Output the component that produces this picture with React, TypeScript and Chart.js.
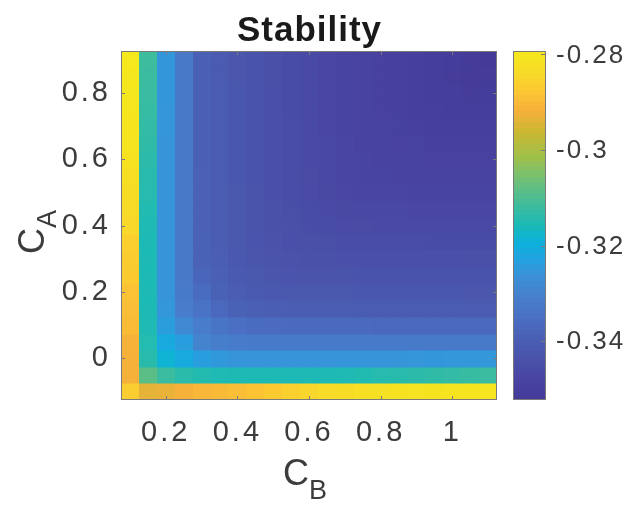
import React, { useEffect, useRef } from 'react';
import { Chart, registerables } from 'chart.js';
Chart.register(...registerables);

const FONT = '"Liberation Sans", Arial, Helvetica, sans-serif';
const TEXT = '#3c3c3c';
const EDGE = '#7a7a7a';

// ---- data ----
const titleText = 'Stability';
const cbCenters = [0.1, 0.15, 0.2, 0.25, 0.3, 0.35, 0.4, 0.45, 0.5, 0.55, 0.6, 0.65, 0.7, 0.75, 0.8, 0.85, 0.9, 0.95, 1.0, 1.05, 1.1];
const caCenters = [-0.1, -0.05, 0, 0.05, 0.1, 0.15, 0.2, 0.25, 0.3, 0.35, 0.4, 0.45, 0.5, 0.55, 0.6, 0.65, 0.7, 0.75, 0.8, 0.85, 0.9];
const xTicks = [0.2, 0.4, 0.6, 0.8, 1];
const yTicks = [0, 0.2, 0.4, 0.6, 0.8];
const cbTicks = [-0.34, -0.32, -0.3, -0.28];
const climMin = -0.3523;
const climMax = -0.2793;

// value on the diagonal cells (i == j)
const diagonal = [-0.2865, -0.3085, -0.3185, -0.3235, -0.3312, -0.3370, -0.3400, -0.3418, -0.3430, -0.3441, -0.3452, -0.3461, -0.3470, -0.3478, -0.3485, -0.3491, -0.3497, -0.3502, -0.3507, -0.3512, -0.3520];
// row k, cells to the right of the diagonal
const rowArm0 = [-0.2935, -0.2930, -0.2915, -0.2905, -0.2897, -0.2890, -0.2880, -0.2870, -0.2858, -0.2847, -0.2838, -0.2830, -0.2823, -0.2817, -0.2813, -0.2810, -0.2808, -0.2806, -0.2805, -0.2804];
const rowArm1 = [-0.3120, -0.3138, -0.3146, -0.3150, -0.3152, -0.3153, -0.3153, -0.3153, -0.3153, -0.3153, -0.3150, -0.3147, -0.3143, -0.3140, -0.3136, -0.3132, -0.3128, -0.3124, -0.3120];
const rowArm2 = [-0.3210, -0.3235, -0.3248, -0.3255, -0.3256, -0.3256, -0.3256, -0.3256, -0.3256, -0.3255, -0.3255, -0.3254, -0.3254, -0.3253, -0.3252, -0.3251, -0.3250, -0.3250];
const rowArm3 = [-0.3295, -0.3310, -0.3315, -0.3318, -0.3318, -0.3319, -0.3319, -0.3319, -0.3319, -0.3320, -0.3320, -0.3320, -0.3320, -0.3320, -0.3320, -0.3320, -0.3320];
const rowArm4 = [-0.3335, -0.3350, -0.3358, -0.3362, -0.3363, -0.3364, -0.3364, -0.3365, -0.3365, -0.3366, -0.3366, -0.3366, -0.3367, -0.3367, -0.3368, -0.3368];
// column k, cells above the diagonal
const colArm0 = [-0.2915, -0.2915, -0.2912, -0.2895, -0.2890, -0.2885, -0.2870, -0.2866, -0.2860, -0.2845, -0.2838, -0.2830, -0.2822, -0.2812, -0.2806, -0.2802, -0.2799, -0.2797, -0.2795, -0.2793];
const colArm1 = [-0.3140, -0.3145, -0.3150, -0.3153, -0.3153, -0.3153, -0.3153, -0.3153, -0.3150, -0.3147, -0.3143, -0.3140, -0.3136, -0.3132, -0.3128, -0.3125, -0.3122, -0.3120, -0.3118];
const colArm2 = [-0.3212, -0.3238, -0.3250, -0.3255, -0.3256, -0.3256, -0.3256, -0.3256, -0.3256, -0.3255, -0.3255, -0.3254, -0.3254, -0.3253, -0.3253, -0.3252, -0.3252, -0.3252];
const colArm3 = [-0.3280, -0.3312, -0.3320, -0.3323, -0.3324, -0.3325, -0.3325, -0.3325, -0.3325, -0.3326, -0.3326, -0.3326, -0.3326, -0.3326, -0.3327, -0.3327, -0.3327];
const colArm4 = [-0.3340, -0.3360, -0.3375, -0.3385, -0.3387, -0.3388, -0.3389, -0.3390, -0.3390, -0.3391, -0.3391, -0.3392, -0.3392, -0.3392, -0.3393, -0.3393];
// inner arms (row and column alike)
const arm5 = [-0.3385, -0.3393, -0.3398, -0.3400, -0.3401, -0.3402, -0.3402, -0.3403, -0.3403, -0.3404, -0.3404, -0.3405, -0.3405, -0.3406, -0.3406];
const arm6 = [-0.3410, -0.3414, -0.3416, -0.3417, -0.3418, -0.3418, -0.3419, -0.3419, -0.3419, -0.3420, -0.3420, -0.3420, -0.3421, -0.3421];
const arm7 = [-0.3425, -0.3428, -0.3429, -0.3430, -0.3430, -0.3431, -0.3431, -0.3432, -0.3432, -0.3432, -0.3433, -0.3433, -0.3433];
const arm8 = [-0.3436, -0.3439, -0.3440, -0.3441, -0.3441, -0.3442, -0.3442, -0.3443, -0.3443, -0.3443, -0.3444, -0.3444];
const arm9 = [-0.3446, -0.3449, -0.3450, -0.3451, -0.3451, -0.3452, -0.3452, -0.3453, -0.3453, -0.3453, -0.3454];
const arm10 = [-0.3456, -0.3458, -0.3459, -0.3460, -0.3460, -0.3461, -0.3461, -0.3462, -0.3462, -0.3462];
const arm11 = [-0.3465, -0.3467, -0.3468, -0.3468, -0.3469, -0.3469, -0.3470, -0.3470, -0.3470];
const arm12 = [-0.3473, -0.3475, -0.3475, -0.3476, -0.3476, -0.3477, -0.3477, -0.3477];
const arm13 = [-0.3480, -0.3482, -0.3482, -0.3483, -0.3483, -0.3484, -0.3484];
const arm14 = [-0.3487, -0.3488, -0.3489, -0.3489, -0.3490, -0.3490];
const arm15 = [-0.3493, -0.3494, -0.3495, -0.3495, -0.3496];
const arm16 = [-0.3499, -0.3500, -0.3500, -0.3501];
const arm17 = [-0.3504, -0.3505, -0.3506];
const arm18 = [-0.3509, -0.3510];
const arm19 = [-0.3515];

const innerArms = [arm5, arm6, arm7, arm8, arm9, arm10, arm11, arm12, arm13, arm14, arm15, arm16, arm17, arm18, arm19];
const rowArms = [rowArm0, rowArm1, rowArm2, rowArm3, rowArm4, ...innerArms];
const colArms = [colArm0, colArm1, colArm2, colArm3, colArm4, ...innerArms];

function valueAt(i: number, j: number): number {
  if (i === j) return diagonal[i];
  if (i > j) return rowArms[j][i - j - 1];
  return colArms[i][j - i - 1];
}

// colour map as it appears in the picture's colour bar (bottom -> top)
const cmapStops: [number, string][] = [
  [0.0, '#443a98'], [0.05, '#4842a0'], [0.12, '#4a52aa'], [0.18, '#4a60b4'],
  [0.24, '#4a70c4'], [0.30, '#4680cc'], [0.36, '#3a92d8'], [0.41, '#20a4e0'],
  [0.45, '#0cb0dc'], [0.50, '#18bab8'], [0.56, '#40bc9c'], [0.63, '#70c078'],
  [0.70, '#a0c048'], [0.77, '#ccb832'], [0.83, '#f6b03a'], [0.88, '#fcc434'],
  [0.93, '#f8d82a'], [1.0, '#f5e81c'],
];

function hexRgb(h: string) {
  return [parseInt(h.slice(1, 3), 16), parseInt(h.slice(3, 5), 16), parseInt(h.slice(5, 7), 16)];
}
function colorAtT(t: number): string {
  t = Math.max(0, Math.min(1, t));
  for (let k = 0; k < cmapStops.length - 1; k++) {
    const [t0, c0] = cmapStops[k];
    const [t1, c1] = cmapStops[k + 1];
    if (t <= t1) {
      const f = (t - t0) / (t1 - t0);
      const a = hexRgb(c0), b = hexRgb(c1);
      const r = Math.round(a[0] + (b[0] - a[0]) * f);
      const g = Math.round(a[1] + (b[1] - a[1]) * f);
      const bl = Math.round(a[2] + (b[2] - a[2]) * f);
      return `rgb(${r},${g},${bl})`;
    }
  }
  return cmapStops[cmapStops.length - 1][1];
}
function colorOf(v: number) {
  return colorAtT((v - climMin) / (climMax - climMin));
}

const fmt = (v: any) => String(Math.round(Number(v) * 100) / 100);

export default function App() {
  const ref = useRef<HTMLCanvasElement>(null);
  useEffect(() => {
    if (!ref.current) return;
    const hx = (cbCenters[1] - cbCenters[0]) / 2;
    const hy = (caCenters[1] - caCenters[0]) / 2;
    const points: any[] = [];
    for (let j = 0; j < caCenters.length; j++) {
      for (let i = 0; i < cbCenters.length; i++) {
        points.push({ x: cbCenters[i], y: caCenters[j], v: valueAt(i, j) });
      }
    }

    const TICK_SPACING = '3px';
    const heatPlugin = {
      id: 'heat',
      beforeUpdate(chart: any) {
        (chart.ctx as any).letterSpacing = TICK_SPACING;
      },
      beforeDraw(chart: any) {
        (chart.ctx as any).letterSpacing = TICK_SPACING;
      },
      beforeDatasetsDraw(chart: any) {
        const { ctx, chartArea, scales } = chart;
        const xs = scales.x, ys = scales.y;
        ctx.save();
        ctx.beginPath();
        ctx.rect(chartArea.left, chartArea.top, chartArea.right - chartArea.left, chartArea.bottom - chartArea.top);
        ctx.clip();
        for (const p of chart.data.datasets[0].data) {
          const x0 = Math.round(xs.getPixelForValue(p.x - hx));
          const x1 = Math.round(xs.getPixelForValue(p.x + hx));
          const y0 = Math.round(ys.getPixelForValue(p.y + hy));
          const y1 = Math.round(ys.getPixelForValue(p.y - hy));
          ctx.fillStyle = colorOf(p.v);
          ctx.fillRect(x0, y0, x1 - x0 + 0.5, y1 - y0 + 0.5);
        }
        ctx.restore();
      },
      afterDraw(chart: any) {
        const { ctx, chartArea, scales } = chart;
        const xs = scales.x, ys = scales.y, cb = scales.cb;
        const { left, right, top, bottom } = chartArea;
        ctx.save();
        // axes box
        ctx.strokeStyle = EDGE;
        ctx.lineWidth = 1;
        ctx.strokeRect(Math.round(left) + 0.5, Math.round(top) + 0.5, Math.round(right - left) - 1, Math.round(bottom - top) - 1);
        // inward ticks
        const tl = 4;
        ctx.beginPath();
        for (const v of xTicks) {
          const px = Math.round(xs.getPixelForValue(v)) + 0.5;
          ctx.moveTo(px, bottom); ctx.lineTo(px, bottom - tl);
          ctx.moveTo(px, top); ctx.lineTo(px, top + tl);
        }
        for (const v of yTicks) {
          const py = Math.round(ys.getPixelForValue(v)) + 0.5;
          ctx.moveTo(left, py); ctx.lineTo(left + tl, py);
          ctx.moveTo(right, py); ctx.lineTo(right - tl, py);
        }
        ctx.stroke();

        // colour bar
        const cbL = 513, cbR = 546;
        const n = 64;
        for (let k = 0; k < n; k++) {
          const v0 = climMin + (climMax - climMin) * k / n;
          const v1 = climMin + (climMax - climMin) * (k + 1) / n;
          const yA = cb.getPixelForValue(v1), yB = cb.getPixelForValue(v0);
          ctx.fillStyle = colorAtT((k + 0.5) / n);
          ctx.fillRect(cbL, Math.floor(yA), cbR - cbL, Math.ceil(yB) - Math.floor(yA));
        }
        const cbTop = Math.round(cb.getPixelForValue(climMax));
        const cbBot = Math.round(cb.getPixelForValue(climMin));
        ctx.strokeStyle = EDGE;
        ctx.strokeRect(cbL + 0.5, cbTop + 0.5, cbR - cbL - 1, cbBot - cbTop - 1);
        ctx.beginPath();
        for (const v of cbTicks) {
          const py = Math.round(cb.getPixelForValue(v)) + 0.5;
          ctx.moveTo(cbR - 1, py); ctx.lineTo(cbR - 1 - 4, py);
        }
        ctx.stroke();

        // colour bar labels
        ctx.fillStyle = TEXT;
        (ctx as any).letterSpacing = '2px';
        ctx.font = `26px ${FONT}`;
        ctx.textAlign = 'left';
        ctx.textBaseline = 'middle';
        for (const v of cbTicks) {
          ctx.fillText(fmt(v), 556, cb.getPixelForValue(v) + 1);
        }

        // title
        (ctx as any).letterSpacing = '1px';
        ctx.fillStyle = '#1a1a1a';
        ctx.font = `bold 35px ${FONT}`;
        ctx.textAlign = 'center';
        ctx.textBaseline = 'alphabetic';
        ctx.fillText(titleText, (left + right) / 2 + 0.5, 41);

        // axis labels with subscripts
        (ctx as any).letterSpacing = '0px';
        ctx.fillStyle = TEXT;
        ctx.textAlign = 'left';
        const bigFont = `36px ${FONT}`;
        const subFont = `27px ${FONT}`;
        ctx.font = bigFont;
        const wC = ctx.measureText('C').width;
        ctx.font = subFont;
        const wB = ctx.measureText('B').width;
        const wA = ctx.measureText('A').width;
        const cx = 305;
        const xStart = cx - (wC + wB) / 2;
        ctx.font = bigFont;
        ctx.fillText('C', xStart, 485);
        ctx.font = subFont;
        ctx.fillText('B', xStart + wC, 499);

        ctx.save();
        const cy = 232;
        ctx.translate(44, cy + (wC + wA) / 2);
        ctx.rotate(-Math.PI / 2);
        ctx.font = bigFont;
        ctx.fillText('C', 0, 0);
        ctx.font = subFont;
        ctx.fillText('A', wC, 12);
        ctx.restore();
        ctx.restore();
      },
    };

    const tickFont = { family: FONT, size: 29 };
    const noPad = (s: any) => {
      s.paddingTop = 0; s.paddingBottom = 0; s.paddingLeft = 0; s.paddingRight = 0;
    };
    const chart = new Chart(ref.current, {
      type: 'scatter',
      data: { datasets: [{ data: points, pointRadius: 0, pointHoverRadius: 0, showLine: false }] },
      options: {
        animation: false,
        responsive: false,
        devicePixelRatio: 1,
        events: [],
        layout: { padding: { top: 51, left: 0, right: 0, bottom: 0 } },
        plugins: {
          legend: { display: false },
          tooltip: { enabled: false },
          title: { display: false },
        },
        scales: {
          x: {
            type: 'linear',
            min: cbCenters[0] - 0.025,
            max: cbCenters[cbCenters.length - 1] + 0.025,
            grid: { display: false, drawTicks: false },
            border: { display: false },
            ticks: { color: TEXT, font: tickFont, padding: 16, callback: fmt, maxRotation: 0, autoSkip: false },
            afterBuildTicks: (s: any) => { s.ticks = xTicks.map((v) => ({ value: v })); },
            afterFit: (s: any) => { s.height = 106; noPad(s); },
          },
          y: {
            type: 'linear',
            min: caCenters[0] - 0.025,
            max: caCenters[caCenters.length - 1] + 0.025,
            grid: { display: false, drawTicks: false },
            border: { display: false },
            ticks: { color: TEXT, font: tickFont, padding: 10, callback: fmt, autoSkip: false },
            afterBuildTicks: (s: any) => { s.ticks = yTicks.map((v) => ({ value: v })); },
            afterFit: (s: any) => { s.width = 121; noPad(s); },
          },
          cb: {
            type: 'linear',
            axis: 'y',
            position: 'right',
            min: climMin,
            max: climMax,
            grid: { display: false, drawTicks: false },
            border: { display: false },
            ticks: { display: false },
            afterBuildTicks: (s: any) => { s.ticks = cbTicks.map((v) => ({ value: v })); },
            afterFit: (s: any) => { s.width = 134; noPad(s); },
          },
        },
      } as any,
      plugins: [heatPlugin],
    });
    return () => chart.destroy();
  }, []);
  return (
    <div style={{ position: 'fixed', left: 0, top: 0, width: 631, height: 506, background: '#fff' }}>
      <canvas ref={ref} width={631} height={506} style={{ display: 'block' }} />
    </div>
  );
}
